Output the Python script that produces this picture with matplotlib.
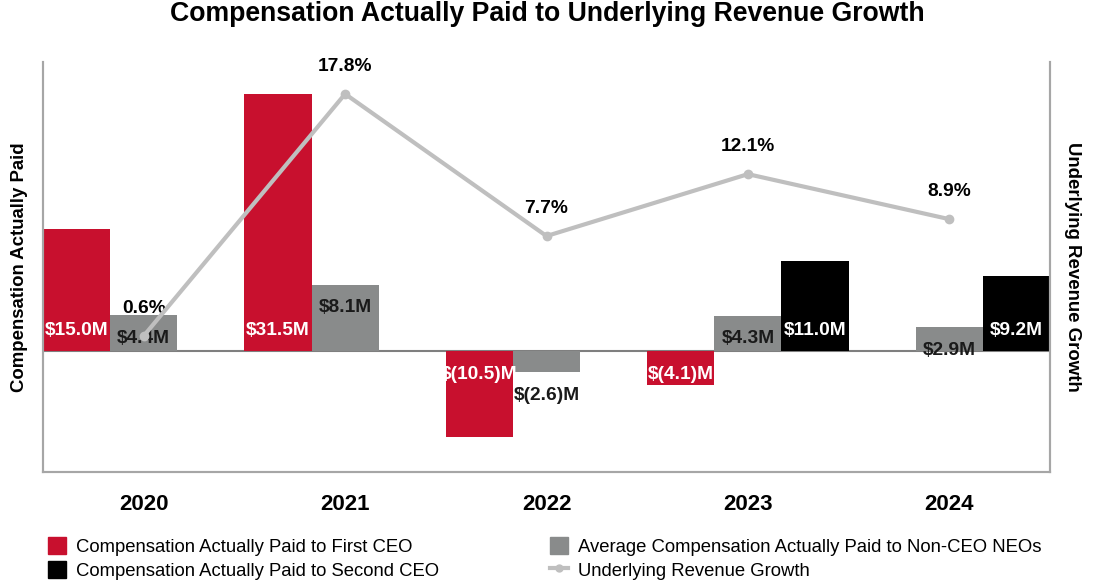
import numpy as np
import matplotlib
matplotlib.use('Agg')
import matplotlib.pyplot as plt
from matplotlib.patches import Patch
from matplotlib.lines import Line2D

plt.rcParams['font.family'] = ['Liberation Sans', 'DejaVu Sans']

years = ['2020', '2021', '2022', '2023', '2024']
first_ceo = [15.0, 31.5, -10.5, -4.1, np.nan]
second_ceo = [np.nan, np.nan, np.nan, 11.0, 9.2]
neo_avg = [4.4, 8.1, -2.6, 4.3, 2.9]
rev_growth = [0.6, 17.8, 7.7, 12.1, 8.9]

RED = '#C8102E'
GRAY = '#898B8B'
BLACK = '#000000'
LINE = '#BFBFBF'
SPINE = '#A6A6A6'


def money(v):
    if v < 0:
        return f'$({-v:.1f})M'
    return f'${v:.1f}M'


fig = plt.figure(figsize=(10.94, 5.8), dpi=100)
ax = fig.add_axes([0.0393, 0.1862, 0.9205, 0.7069])

x = np.arange(len(years))
w = 1 / 3

ax.bar(x - w, first_ceo, w, color=RED, zorder=2)
ax.bar(x, neo_avg, w, color=GRAY, zorder=2)
ax.bar(x + w, second_ceo, w, color=BLACK, zorder=2)
ax.axhline(0, color='#7F7F7F', lw=1.5, zorder=1)

# bar value labels
for xs, vals, col in [(x - w, first_ceo, 'white'), (x + w, second_ceo, 'white')]:
    for xi, v in zip(xs, vals):
        if np.isnan(v):
            continue
        off = 14.5 if v >= 0 else -17
        ax.annotate(money(v), (xi, 0), xytext=(0, off), textcoords='offset points',
                    ha='center', va='center', color=col, fontsize=13.8,
                    fontweight='bold', zorder=3)
for xi, v in zip(x, neo_avg):
    ax.annotate(money(v), (xi, v), xytext=(0, -16.5), textcoords='offset points',
                ha='center', va='center', color='#1A1A1A', fontsize=13.8,
                fontweight='bold', zorder=3)

ax.set_xlim(-0.5, len(years) - 0.5)
ax.set_ylim(-14.8, 35.4)
ax.set_yticks([])
ax.set_xticks(x)
ax.set_xticklabels(years, fontsize=16, fontweight='bold')
ax.tick_params(axis='x', length=0, pad=16)
ax.set_ylabel('Compensation Actually Paid', fontsize=13.4, fontweight='bold', labelpad=11)

ax2 = ax.twinx()
ax2.plot(x, rev_growth, color=LINE, lw=3, marker='o', markersize=6, zorder=4)
for xi, v in zip(x, rev_growth):
    ax2.annotate(f'{v:.1f}%', (xi, v), xytext=(0, 20), textcoords='offset points',
                 ha='center', va='center', fontsize=13.8, fontweight='bold')
ax2.set_ylim(-9.07, 20.07)
ax2.set_yticks([])
ax2.set_ylabel('Underlying Revenue Growth', fontsize=13.4, fontweight='bold',
               rotation=-90, labelpad=22)

for a in (ax, ax2):
    a.spines['top'].set_visible(False)
    for s in ('left', 'right', 'bottom'):
        a.spines[s].set_color(SPINE)
        a.spines[s].set_linewidth(1.5)

fig.suptitle('Compensation Actually Paid to Underlying Revenue Growth',
             x=0.5, y=1 - 14 / 580, va='center', fontsize=19.2, fontweight='bold')

leg_font = {'family': ['Liberation Sans Narrow', 'Liberation Sans', 'DejaVu Sans'], 'size': 13.3}
h1 = [Patch(color=RED), Patch(color=BLACK)]
l1 = ['Compensation Actually Paid to First CEO', 'Compensation Actually Paid to Second CEO']
h2 = [Patch(color=GRAY), Line2D([], [], color=LINE, lw=3, marker='o', markersize=5)]
l2 = ['Average Compensation Actually Paid to Non-CEO NEOs', 'Underlying Revenue Growth']
common = dict(frameon=False, prop=leg_font, handlelength=1.0, handleheight=1.0,
              handletextpad=0.5, labelspacing=0.3, borderpad=0, borderaxespad=0)
fig.legend(h1, l1, loc='upper left', bbox_to_anchor=(48 / 1094, 1 - 537 / 580), **common)
fig.legend(h2, l2, loc='upper left', bbox_to_anchor=(550 / 1094, 1 - 537 / 580), **common)

fig.savefig('out.png', dpi=100)
